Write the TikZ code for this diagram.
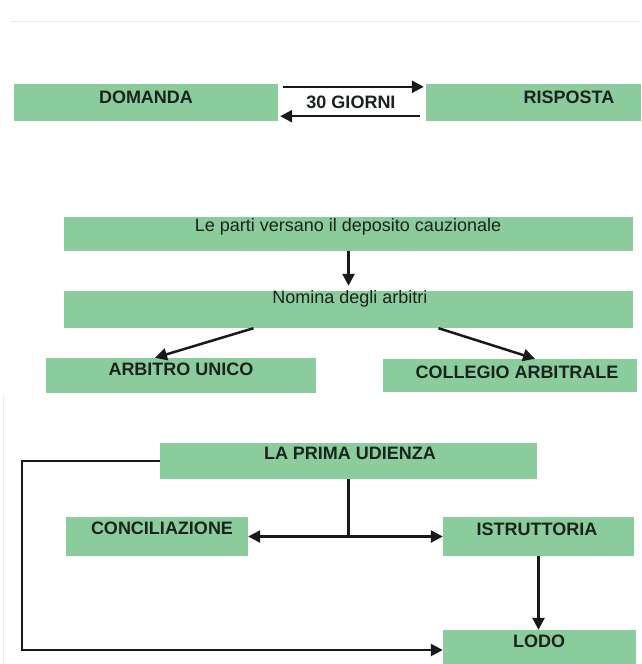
\documentclass[tikz,border=0pt]{standalone}
\usepackage{fontspec}
\setmainfont{Liberation Sans}
\usetikzlibrary{arrows.meta,calc}
\definecolor{boxgreen}{RGB}{139,204,156}
\definecolor{txt}{RGB}{28,34,30}
\tikzset{
  box/.style={fill=boxgreen, draw=none, inner sep=0pt},
  lbl/.style={text=txt, font=\fontsize{18}{20}\selectfont\bfseries, inner sep=0pt},
  lblr/.style={text=txt, font=\fontsize{18}{20}\selectfont, inner sep=0pt},
  conn/.style={draw=black!90, line width=2.5pt, -{Triangle[length=12pt,width=12pt]}},
  plain/.style={draw=black!90, line width=2.5pt},
  faint/.style={draw=black!8, line width=1pt}
}
\begin{document}
\begin{tikzpicture}[x=1pt,y=-1pt]
\useasboundingbox (0,0) rectangle (641,664);
\fill[white] (0,0) rectangle (641,664);
\draw[faint] (10,21) -- (641,21);
\draw[faint] (3,396) -- (3,664);
% boxes
\node[box, minimum width=264pt, minimum height=37pt] (dom) at (146,102.5) {};
\node[box, minimum width=215pt, minimum height=37pt] (risp) at (533.5,102.5) {};
\node[box, minimum width=569pt, minimum height=34pt] (parti) at (348.5,234) {};
\node[box, minimum width=569pt, minimum height=37pt] (nom) at (348.5,309.5) {};
\node[box, minimum width=270pt, minimum height=35pt] (arb) at (181,375.5) {};
\node[box, minimum width=254pt, minimum height=33pt] (coll) at (510,375.5) {};
\node[box, minimum width=377pt, minimum height=36pt] (prima) at (348.5,461) {};
\node[box, minimum width=182pt, minimum height=39pt] (conc) at (157,536.5) {};
\node[box, minimum width=191pt, minimum height=39pt] (istr) at (538.5,536.5) {};
\node[box, minimum width=193pt, minimum height=34pt] (lodo) at (539.5,647) {};
% labels
\node[lbl] (domt) at (146,97) {DOMANDA};
\node[lbl] (rispt) at (569,97) {RISPOSTA};
\node[lbl] (giorni) at (351,102) {30 GIORNI};
\node[lblr] (partit) at (348,227) {Le parti versano il deposito cauzionale};
\node[lblr] (nomt) at (350,299) {Nomina degli arbitri};
\node[lbl] (arbt) at (181,369) {ARBITRO UNICO};
\node[lbl] (collt) at (517,372) {COLLEGIO ARBITRALE};
\node[lbl] (primat) at (350,453) {LA PRIMA UDIENZA};
\node[lbl] (conct) at (162,528) {CONCILIAZIONE};
\node[lbl] (istrt) at (537,529) {ISTRUTTORIA};
\node[lbl] (lodot) at (539,641) {LODO};
% connectors
\draw[conn] ([xshift=5pt,yshift=-3pt]dom.north east) -- ([xshift=-2pt,yshift=-3pt]risp.north west);
\draw[conn] ([xshift=-6pt,yshift=5pt]risp.south west) -- ([xshift=2pt,yshift=5pt]dom.south east);
\draw[conn] (parti.south) -- ([yshift=5pt]nom.north);
\draw[conn] ([xshift=-95pt]nom.south) -- ([xshift=-26pt]arb.north);
\draw[conn] ([xshift=90pt]nom.south) -- ([xshift=25pt]coll.north);
\coordinate (j) at (prima.south |- conc.east);
\draw[plain] (prima.south) -- (j);
\draw[conn] (j) -- (conc.east);
\draw[conn] (j) -- (istr.west);
\draw[conn] (istr.south) -- (istr.south |- lodo.north);
\coordinate (l1) at (22,461);
\coordinate (l2) at (22,650);
\draw[conn] (prima.west) -- (l1) -- (l2) -- (l2 -| lodo.west);
\end{tikzpicture}
\end{document}
